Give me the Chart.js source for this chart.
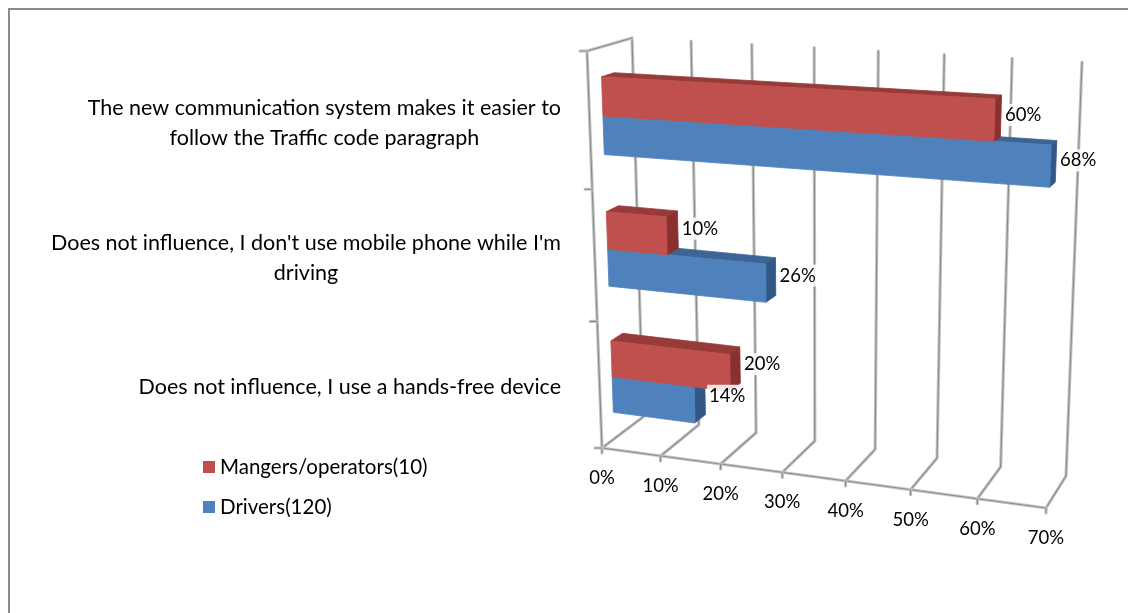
<!DOCTYPE html>
<html>
<head>
<meta charset="utf-8">
<script src="https://cdn.jsdelivr.net/npm/chart.js@4/dist/chart.umd.min.js"></script>
<style>
  html, body { margin: 0; padding: 0; background: #ffffff; overflow: hidden; }
  #c { display: block; }
</style>
</head>
<body>
<canvas id="c" width="1128" height="613"></canvas>
<script>
// ---- data ----
const categoryLabels = [
  ["The new communication system makes it easier to", "follow the Traffic code paragraph"],
  ["Does not influence, I don't use mobile phone while I'm", "driving"],
  ["Does not influence, I use a hands-free device"]
];
const seriesLabels = ["Mangers/operators(10)", "Drivers(120)"];
const managersShare = [60, 10, 20];
const driversShare = [68, 26, 14];
const axisTickLabels = ["0%", "10%", "20%", "30%", "40%", "50%", "60%", "70%"];
const axisStep = 10;
const axisMax = 70;

// ---- look ----
const FONT = "Lato, 'Open Sans', sans-serif";
const palette = [
  { front: "#C0504D", top: "#973b38", side: "#8a302e" },
  { front: "#4F81BD", top: "#3c6596", side: "#345886" }
];

// corners of the 3-D plot box on screen: front plane and back wall
// order: top-left, top-right, bottom-right, bottom-left
const frontPlane = [[587, 51], [1063, 74], [1046, 508], [602, 448]];
const backPlane  = [[632, 38], [1082, 62], [1066, 476], [643, 417]];
const barDepth = [0.30, 0.58];

function squareToQuad(q) {
  const [x0, y0] = q[0], [x1, y1] = q[1], [x2, y2] = q[2], [x3, y3] = q[3];
  const dx1 = x1 - x2, dx2 = x3 - x2, dx3 = x0 - x1 + x2 - x3;
  const dy1 = y1 - y2, dy2 = y3 - y2, dy3 = y0 - y1 + y2 - y3;
  const den = dx1 * dy2 - dx2 * dy1;
  const g = (dx3 * dy2 - dx2 * dy3) / den;
  const h = (dx1 * dy3 - dx3 * dy1) / den;
  const a = x1 - x0 + g * x1, b = x3 - x0 + h * x3, c = x0;
  const d = y1 - y0 + g * y1, e = y3 - y0 + h * y3, f = y0;
  return (u, v) => {
    const w = g * u + h * v + 1;
    return [(a * u + b * v + c) / w, (d * u + e * v + f) / w];
  };
}
const frontMap = squareToQuad(frontPlane);
const backMap = squareToQuad(backPlane);
// u: along value axis, v: down the category axis, d: depth (0 front, 1 back)
function project(u, v, d) {
  const f = frontMap(u, v), b = backMap(u, v);
  return [f[0] + (b[0] - f[0]) * d, f[1] + (b[1] - f[1]) * d];
}

function gridStroke(ctx, pts) {
  ctx.save();
  ctx.lineCap = "round";
  ctx.lineJoin = "round";
  ctx.beginPath();
  ctx.moveTo(pts[0][0], pts[0][1]);
  for (let i = 1; i < pts.length; i++) ctx.lineTo(pts[i][0], pts[i][1]);
  ctx.strokeStyle = "#c4c4c4";
  ctx.lineWidth = 3.2;
  ctx.stroke();
  ctx.strokeStyle = "#8e8e8e";
  ctx.lineWidth = 1.2;
  ctx.stroke();
  ctx.restore();
}

function fillQuad(ctx, pts, color) {
  ctx.beginPath();
  ctx.moveTo(pts[0][0], pts[0][1]);
  for (let i = 1; i < pts.length; i++) ctx.lineTo(pts[i][0], pts[i][1]);
  ctx.closePath();
  ctx.fillStyle = color;
  ctx.fill();
  ctx.strokeStyle = color;
  ctx.lineWidth = 0.8;
  ctx.stroke();
}

function drawBox(ctx, u0, u1, v0, v1, d0, d1, col) {
  const P = project;
  fillQuad(ctx, [P(u0, v0, d0), P(u1, v0, d0), P(u1, v0, d1), P(u0, v0, d1)], col.top);
  fillQuad(ctx, [P(u1, v0, d0), P(u1, v1, d0), P(u1, v1, d1), P(u1, v0, d1)], col.side);
  fillQuad(ctx, [P(u0, v0, d0), P(u1, v0, d0), P(u1, v1, d0), P(u0, v1, d0)], col.front);
}

const perspectiveBars = {
  id: "perspectiveBars",
  beforeDatasetsDraw(chart) {
    const ctx = chart.ctx;
    const area = chart.chartArea;
    const xs = chart.scales.x, ys = chart.scales.y;
    const U = (px) => (px - area.left) / (area.right - area.left);
    const V = (py) => (py - area.top) / (area.bottom - area.top);

    ctx.save();
    // outer frame of the chart object
    ctx.strokeStyle = "#8a8a8a";
    ctx.lineWidth = 2;
    ctx.beginPath();
    ctx.moveTo(9, 640);
    ctx.lineTo(9, 9);
    ctx.lineTo(1140, 9);
    ctx.stroke();

    // back wall gridlines and floor lines
    axisTickLabels.forEach((_, i) => {
      const u = U(xs.getPixelForValue(i * axisStep));
      gridStroke(ctx, [project(u, 0, 1), project(u, 1, 1), project(u, 1, 0)]);
    });
    // side wall edges
    gridStroke(ctx, [project(0, 1, 0), project(0, 0, 0), project(0, 0, 1)]);
    // floor front edge
    gridStroke(ctx, [project(0, 1, 0), project(1, 1, 0)]);
    // tick marks on the value axis
    axisTickLabels.forEach((_, i) => {
      const p = project(U(xs.getPixelForValue(i * axisStep)), 1, 0);
      gridStroke(ctx, [p, [p[0], p[1] + 5]]);
    });
    // tick marks on the category axis (band edges)
    const n = categoryLabels.length;
    for (let i = 0; i <= n; i++) {
      const edge = i === 0 ? area.top : (i === n ? area.bottom :
        (ys.getPixelForValue(i - 1) + ys.getPixelForValue(i)) / 2);
      const p = project(0, V(edge), 0);
      gridStroke(ctx, [[p[0] - 7, p[1]], p]);
    }

    // bars, lower series first so the upper bar sits in front of its top face
    const items = [];
    chart.data.datasets.forEach((ds, di) => {
      const meta = chart.getDatasetMeta(di);
      meta.data.forEach((el, j) => {
        const pr = el.getProps(["x", "y", "base", "height"], true);
        items.push({
          di, j, value: ds.data[j],
          u0: U(pr.base), u1: U(pr.x),
          v0: V(pr.y - pr.height / 2), v1: V(pr.y + pr.height / 2)
        });
      });
    });
    items.sort((a, b) => (b.j - a.j) || (b.di - a.di));
    items.forEach(it => drawBox(ctx, it.u0, it.u1, it.v0, it.v1, barDepth[0], barDepth[1], palette[it.di]));

    // value labels at the bar ends
    ctx.font = "18.5px " + FONT;
    ctx.textBaseline = "middle";
    ctx.textAlign = "left";
    items.forEach(it => {
      const p = project(it.u1, (it.v0 + it.v1) / 2, barDepth[1]);
      const txt = it.value + "%";
      const w = ctx.measureText(txt).width;
      const x = p[0] + 4, y = p[1] - 1;
      ctx.fillStyle = "rgba(255,255,255,0.85)";
      ctx.fillRect(x - 2, y - 11, w + 4, 22);
      ctx.fillStyle = "#000000";
      ctx.fillText(txt, x, y);
    });

    // value axis labels
    ctx.textAlign = "center";
    axisTickLabels.forEach((lab, i) => {
      const p = project(U(xs.getPixelForValue(i * axisStep)), 1, 0);
      ctx.fillText(lab, p[0], p[1] + 30);
    });

    // category labels, right-aligned blocks of centred lines
    ctx.font = "21.5px " + FONT;
    categoryLabels.forEach((lines, i) => {
      const p = project(0, V(ys.getPixelForValue(i)), 0);
      const widths = lines.map(l => ctx.measureText(l).width);
      const cx = 561 - Math.max(...widths) / 2;
      const lh = 30;
      const y0 = p[1] + 2 - (lines.length - 1) * lh / 2;
      lines.forEach((l, k) => ctx.fillText(l, cx, y0 + k * lh));
    });

    // legend
    ctx.textAlign = "left";
    ctx.font = "20.5px " + FONT;
    chart.data.datasets.forEach((ds, di) => {
      const y = 467 + di * 40;
      ctx.fillStyle = palette[di].front;
      ctx.fillRect(203, y - 6, 12, 12);
      ctx.fillStyle = "#000000";
      ctx.fillText(ds.label, 220, y);
    });
    ctx.restore();
    return false;
  }
};

new Chart(document.getElementById("c").getContext("2d"), {
  type: "bar",
  data: {
    labels: categoryLabels,
    datasets: [
      { label: seriesLabels[0], data: managersShare, backgroundColor: palette[0].front },
      { label: seriesLabels[1], data: driversShare, backgroundColor: palette[1].front }
    ]
  },
  options: {
    indexAxis: "y",
    responsive: false,
    animation: false,
    layout: { padding: 0 },
    datasets: { bar: { categoryPercentage: 2 / 3.5, barPercentage: 1 } },
    scales: {
      x: { min: 0, max: axisMax, display: false, ticks: { stepSize: axisStep } },
      y: { display: false }
    },
    plugins: { legend: { display: false }, tooltip: { enabled: false } }
  },
  plugins: [perspectiveBars]
});
</script>
</body>
</html>
